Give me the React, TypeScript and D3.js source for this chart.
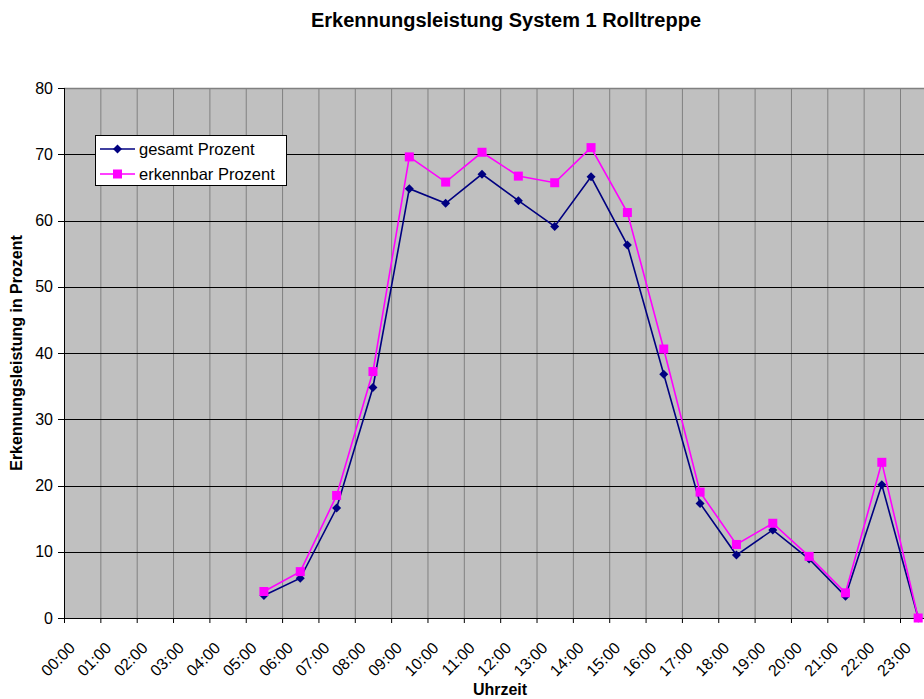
import React from "react";
import * as d3 from "d3";

// hours on the category axis
const hours = [
  "00:00", "01:00", "02:00", "03:00", "04:00", "05:00", "06:00", "07:00",
  "08:00", "09:00", "10:00", "11:00", "12:00", "13:00", "14:00", "15:00",
  "16:00", "17:00", "18:00", "19:00", "20:00", "21:00", "22:00", "23:00",
];

// percentages (null = no measurement)
const gesamt = [
  null, null, null, null, null, 3.4, 6.0, 16.6, 34.8, 64.8, 62.6, 67.0,
  63.0, 59.1, 66.6, 56.3, 36.8, 17.3, 9.5, 13.3, 8.9, 3.3, 20.1, 0,
];
const erkennbar = [
  null, null, null, null, null, 4.0, 7.0, 18.5, 37.2, 69.6, 65.8, 70.3,
  66.7, 65.7, 71.0, 61.2, 40.6, 19.0, 11.1, 14.3, 9.3, 3.8, 23.5, 0,
];

const yTicks = [0, 10, 20, 30, 40, 50, 60, 70, 80];

const font = "Arial, 'Liberation Sans', sans-serif";

export default function App() {
  const width = 924;
  const height = 699;
  const left = 64;
  const top = 88;
  const bottom = 618;
  const step = 836 / 23;

  const x = d3.scaleBand<string>()
    .domain(hours)
    .range([left, left + step * hours.length])
    .padding(0);

  const y = d3.scaleLinear().domain([0, 80]).range([bottom, top]);

  const cx = (i: number) => (x(hours[i]) as number) + x.bandwidth() / 2;

  const toPts = (vals: (number | null)[]) =>
    vals
      .map((v, i) => (v === null ? null : { i, v }))
      .filter((d): d is { i: number; v: number } => d !== null);

  const ptsG = toPts(gesamt);
  const ptsE = toPts(erkennbar);

  const line = d3.line<{ i: number; v: number }>()
    .x(d => cx(d.i))
    .y(d => y(d.v));

  const plotRight = left + step * hours.length;

  const diamond = (px: number, py: number, r = 4.5) =>
    `M${px},${py - r}L${px + r},${py}L${px},${py + r}L${px - r},${py}Z`;

  return (
    <svg
      width={width}
      height={height}
      style={{ position: "absolute", left: 0, top: 0, display: "block", background: "#fff" }}
      fontFamily={font}
    >
      {/* plot background */}
      <rect x={left} y={top} width={plotRight - left} height={bottom - top} fill="#C0C0C0" />

      {/* vertical grid */}
      {hours.map(h => (
        <line key={"v" + h} x1={(x(h) as number) + 0.5} x2={(x(h) as number) + 0.5}
          y1={top} y2={bottom} stroke="#808080" strokeWidth={1} />
      ))}

      {/* horizontal grid */}
      {yTicks.filter(t => t > 0 && t < 80).map(t => (
        <line key={"h" + t} x1={left} x2={plotRight} y1={Math.round(y(t)) + 0.5} y2={Math.round(y(t)) + 0.5}
          stroke="#000" strokeWidth={1} />
      ))}
      <line x1={left} x2={plotRight} y1={top + 0.5} y2={top + 0.5} stroke="#808080" strokeWidth={1.5} />

      {/* axes */}
      <line x1={left + 0.5} x2={left + 0.5} y1={top} y2={bottom} stroke="#000" />
      <line x1={left} x2={plotRight} y1={bottom + 0.5} y2={bottom + 0.5} stroke="#000" />

      {yTicks.map(t => (
        <g key={"yt" + t}>
          <line x1={left - 6} x2={left} y1={Math.round(y(t)) + 0.5} y2={Math.round(y(t)) + 0.5} stroke="#000" />
          <text x={53} y={y(t) + 5.5} textAnchor="end" fontSize={16} fill="#000">{t}</text>
        </g>
      ))}

      {hours.map(h => {
        const tx = x(h) as number;
        return (
          <g key={"xt" + h}>
            <line x1={tx + 0.5} x2={tx + 0.5} y1={bottom} y2={bottom + 5} stroke="#000" />
            <text transform={`translate(${tx + 12},${bottom + 31}) rotate(-45)`}
              textAnchor="end" fontSize={16} fill="#000">{h}</text>
          </g>
        );
      })}

      {/* series */}
      <path d={line(ptsG) ?? ""} fill="none" stroke="#000080" strokeWidth={1.6} />
      <path d={line(ptsE) ?? ""} fill="none" stroke="#FF00FF" strokeWidth={1.6} />
      {ptsG.map(d => (
        <path key={"g" + d.i} d={diamond(cx(d.i), y(d.v))} fill="#000080" />
      ))}
      {ptsE.map(d => (
        <rect key={"e" + d.i} x={cx(d.i) - 4.5} y={y(d.v) - 4.5} width={9} height={9} fill="#FF00FF" />
      ))}

      {/* legend */}
      <rect x={95.5} y={135.5} width={191} height={50} fill="#fff" stroke="#000" />
      <line x1={100} x2={135} y1={149} y2={149} stroke="#000080" strokeWidth={1.6} />
      <path d={diamond(117.5, 149)} fill="#000080" />
      <text x={139} y={155} fontSize={16.5} fill="#000">gesamt Prozent</text>
      <line x1={100} x2={135} y1={174} y2={174} stroke="#FF00FF" strokeWidth={1.6} />
      <rect x={113} y={169.5} width={9} height={9} fill="#FF00FF" />
      <text x={139} y={180} fontSize={16.5} fill="#000">erkennbar Prozent</text>

      {/* titles */}
      <text x={506} y={27} textAnchor="middle" fontSize={20} fontWeight="bold" fill="#000">
        Erkennungsleistung System 1 Rolltreppe
      </text>
      <text transform={`translate(22,${353}) rotate(-90)`} textAnchor="middle" fontSize={16}
        fontWeight="bold" fill="#000">Erkennungsleistung in Prozent</text>
      <text x={500} y={695} textAnchor="middle" fontSize={16} fontWeight="bold" fill="#000">Uhrzeit</text>
    </svg>
  );
}
